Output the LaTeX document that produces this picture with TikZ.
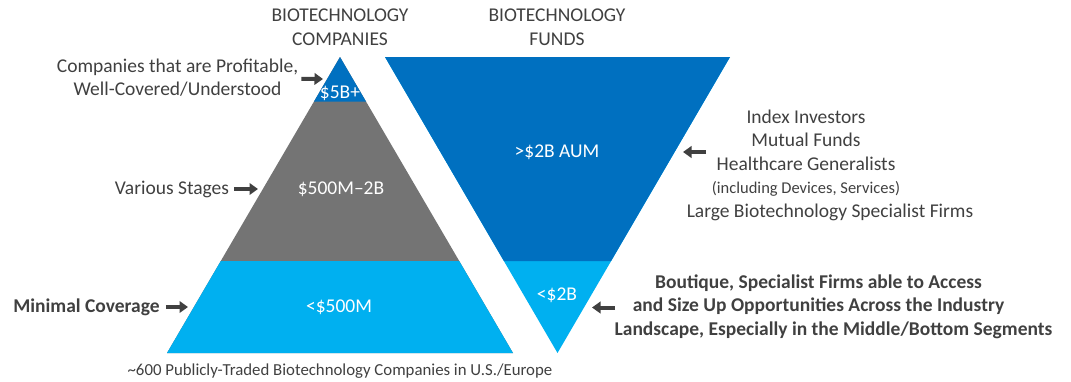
\documentclass[tikz,border=0pt]{standalone}
\usepackage{fontspec}
\setmainfont{Carlito}
\usetikzlibrary{arrows.meta}
\definecolor{capblue}{RGB}{0,112,192}
\definecolor{capgray}{RGB}{116,116,116}
\definecolor{capcyan}{RGB}{0,176,240}
\definecolor{txtgray}{RGB}{64,64,64}
\tikzset{
  lbl/.style={font=\fontsize{19.5}{23.5}\selectfont, text=txtgray, align=center, inner sep=3pt},
  boldlbl/.style={lbl, font=\fontsize{19.5}{23.5}\selectfont\bfseries},
  bandlbl/.style={font=\fontsize{19.5}{23.5}\selectfont, text=white, inner sep=0pt},
  ptr/.style={-{Triangle[length=8.5pt,width=11.5pt]}, line width=4pt, draw=txtgray}
}

\begin{document}
\begin{tikzpicture}[x=1pt,y=-1pt]
  \useasboundingbox (0,0) rectangle (1071,381);

  % Companies pyramid
  \fill[capgray] (340,57) -- (513,353) -- (167,353) -- cycle;
  \fill[capblue] (340,57) -- (366,101.5) -- (314,101.5) -- cycle;
  \fill[capcyan] (220.8,261) -- (459.2,261) -- (513,353) -- (167,353) -- cycle;

  % Funds funnel
  \fill[capcyan] (385,57) -- (730,57) -- (557.5,353) -- cycle;
  \fill[capblue] (385,57) -- (730,57) -- (611.1,261) -- (503.9,261) -- cycle;

  % Headings
  \node[lbl] (comphead) at (340,27) {BIOTECHNOLOGY\\COMPANIES};
  \node[lbl] (fundhead) at (557,27) {BIOTECHNOLOGY\\FUNDS};

  % Band values
  \node[bandlbl] (bigcap) at (340,93) {\$5B+};
  \node[bandlbl] (midcap) at (341,189) {\$500M–2B};
  \node[bandlbl] (smallcap) at (339,307) {<\$500M};
  \node[bandlbl] (bigfund) at (557,152) {>\$2B AUM};
  \node[bandlbl] (smallfund) at (557,295) {<\$2B};

  % Left notes
  \node[lbl] (capnote) at (177.5,77.5) {Companies that are Profitable,\\Well-Covered/Understood};
  \node[lbl] (varnote) at (172,189) {Various Stages};
  \node[boldlbl] (minnote) at (86.5,307) {Minimal Coverage};
  \node[lbl, font=\fontsize{16.8}{20}\selectfont] (caption) at (340,371) {\textasciitilde 600 Publicly-Traded Biotechnology Companies in U.S./Europe};

  % Right notes
  \node[lbl] (bignote) at (806,165) {Index Investors\\Mutual Funds\\Healthcare Generalists\\
    {\fontsize{16.5}{23.5}\selectfont (including Devices, Services)}\\
    \hspace*{48pt}Large Biotechnology Specialist Firms};
  \node[boldlbl] (boutnote) at (818.5,306.5) {Boutique, Specialist Firms able to Access\\
    and Size Up Opportunities Across the Industry\\
    \hspace*{30pt}Landscape, Especially in the Middle/Bottom Segments};

  % Pointers
  \coordinate (capTip) at (323,79);
  \coordinate (varTip) at (258,189);
  \coordinate (minTip) at (188,307);
  \coordinate (bigTail) at (706,152);
  \coordinate (bigTip) at (683,152);
  \coordinate (boutTail) at (615,307.5);
  \coordinate (boutTip) at (592,307.5);
  \draw[ptr] (capnote) -- (capTip);
  \draw[ptr, shorten <=2pt] (varnote) -- (varTip);
  \draw[ptr, shorten <=3pt] (minnote) -- (minTip);
  \draw[ptr] (bigTail) -- (bigTip);
  \draw[ptr] (boutTail) -- (boutTip);
\end{tikzpicture}
\end{document}
